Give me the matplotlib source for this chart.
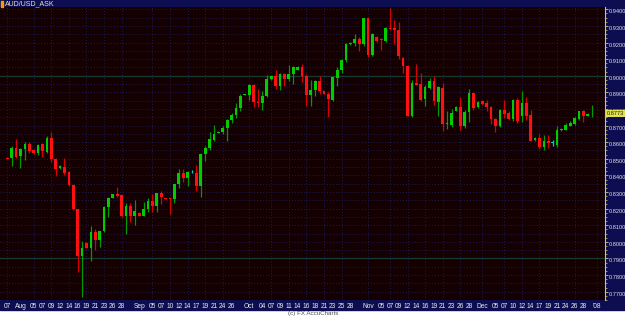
import numpy as np
import pandas as pd
import matplotlib
matplotlib.use('agg')
import matplotlib.pyplot as plt
from matplotlib.patches import Rectangle

plt.rcParams['font.family'] = ['Liberation Sans', 'DejaVu Sans']

symbol = 'AUD/USD_ASK'
last_price = '0.8773'

# daily candles (Sun-Fri) from 29 Jul 2007
o = [0.8507, 0.8507, 0.8563, 0.8517, 0.8557, 0.8587, 0.8551, 0.8533, 0.8587, 0.8543,
     0.8623, 0.8497, 0.8443, 0.8453, 0.8423, 0.8343, 0.8197, 0.7913, 0.7993, 0.7963,
     0.8061, 0.8013, 0.8063, 0.8207, 0.8267, 0.8287, 0.8281, 0.8153, 0.8217, 0.8153,
     0.8173, 0.8157, 0.8197, 0.8247, 0.8216, 0.8292, 0.8262, 0.8262, 0.8256, 0.8346,
     0.8416, 0.8386, 0.8420, 0.8416, 0.8336, 0.8526, 0.8566, 0.8616, 0.8660, 0.8662,
     0.8686, 0.8732, 0.8766, 0.8806, 0.8884, 0.8886, 0.8946, 0.8842, 0.8836, 0.8876,
     0.8980, 0.8996, 0.8940, 0.9010, 0.8980, 0.9012, 0.9036, 0.9052, 0.8996, 0.8882,
     0.8916, 0.8966, 0.8906, 0.8892, 0.8856, 0.8986, 0.9032, 0.9092, 0.9190, 0.9196,
     0.9220, 0.9190, 0.9346, 0.9126, 0.9236, 0.9222, 0.9212, 0.9290, 0.9286, 0.9276,
     0.9106, 0.9060, 0.8760, 0.8956, 0.8952, 0.8860, 0.8926, 0.8966, 0.8842, 0.8926,
     0.8710, 0.8706, 0.8790, 0.8810, 0.8696, 0.8780, 0.8896, 0.8812, 0.8846, 0.8836,
     0.8810, 0.8740, 0.8700, 0.8792, 0.8776, 0.8742, 0.8852, 0.8756, 0.8836, 0.8766,
     0.8612, 0.8626, 0.8572, 0.8606, 0.8600, 0.8586, 0.8672, 0.8676, 0.8700, 0.8712,
     0.8742, 0.8786, 0.8760, 0.8770]
h = [0.8513, 0.8577, 0.8617, 0.8563, 0.8603, 0.8603, 0.8557, 0.8587, 0.8597, 0.8637,
     0.8663, 0.8507, 0.8463, 0.8507, 0.8427, 0.8347, 0.8197, 0.8007, 0.7997, 0.8093,
     0.8077, 0.8067, 0.8213, 0.8273, 0.8291, 0.8333, 0.8287, 0.8233, 0.8233, 0.8253,
     0.8177, 0.8237, 0.8267, 0.8287, 0.8296, 0.8306, 0.8264, 0.8264, 0.8346, 0.8436,
     0.8436, 0.8426, 0.8432, 0.8460, 0.8536, 0.8576, 0.8662, 0.8706, 0.8666, 0.8700,
     0.8740, 0.8776, 0.8836, 0.8892, 0.8890, 0.8952, 0.8952, 0.8920, 0.8906, 0.9006,
     0.9000, 0.9036, 0.9016, 0.9016, 0.9066, 0.9060, 0.9056, 0.9070, 0.9010, 0.8976,
     0.8976, 0.8996, 0.8910, 0.8902, 0.8996, 0.9052, 0.9100, 0.9196, 0.9202, 0.9250,
     0.9236, 0.9350, 0.9350, 0.9256, 0.9240, 0.9230, 0.9296, 0.9406, 0.9336, 0.9326,
     0.9110, 0.9066, 0.8976, 0.9072, 0.9016, 0.8946, 0.8986, 0.8996, 0.8936, 0.8956,
     0.8790, 0.8800, 0.8816, 0.8872, 0.8796, 0.8920, 0.8900, 0.8846, 0.8856, 0.8856,
     0.8816, 0.8746, 0.8800, 0.8856, 0.8786, 0.8860, 0.8866, 0.8906, 0.8872, 0.8796,
     0.8632, 0.8652, 0.8646, 0.8646, 0.8616, 0.8700, 0.8684, 0.8716, 0.8726, 0.8752,
     0.8790, 0.8792, 0.8776, 0.8825]
l = [0.8497, 0.8457, 0.8507, 0.8443, 0.8491, 0.8537, 0.8527, 0.8521, 0.8513, 0.8533,
     0.8483, 0.8397, 0.8441, 0.8401, 0.8337, 0.8191, 0.7817, 0.7667, 0.7961, 0.7887,
     0.7953, 0.7967, 0.8061, 0.8151, 0.8263, 0.8271, 0.8147, 0.8047, 0.8121, 0.8103,
     0.8153, 0.8153, 0.8181, 0.8181, 0.8180, 0.8226, 0.8256, 0.8166, 0.8232, 0.8326,
     0.8362, 0.8336, 0.8416, 0.8306, 0.8270, 0.8486, 0.8552, 0.8606, 0.8658, 0.8652,
     0.8610, 0.8716, 0.8746, 0.8786, 0.8882, 0.8856, 0.8812, 0.8812, 0.8796, 0.8872,
     0.8976, 0.8920, 0.8916, 0.8940, 0.8966, 0.8952, 0.9032, 0.8960, 0.8820, 0.8816,
     0.8880, 0.8890, 0.8890, 0.8750, 0.8850, 0.8936, 0.9016, 0.9080, 0.9186, 0.9182,
     0.9150, 0.9182, 0.9110, 0.9116, 0.9206, 0.9156, 0.9206, 0.9276, 0.9190, 0.9102,
     0.9016, 0.8756, 0.8750, 0.8944, 0.8846, 0.8816, 0.8920, 0.8826, 0.8756, 0.8670,
     0.8682, 0.8690, 0.8786, 0.8672, 0.8686, 0.8720, 0.8796, 0.8806, 0.8826, 0.8786,
     0.8710, 0.8660, 0.8690, 0.8746, 0.8736, 0.8726, 0.8716, 0.8720, 0.8736, 0.8606,
     0.8606, 0.8556, 0.8552, 0.8566, 0.8576, 0.8572, 0.8670, 0.8672, 0.8696, 0.8706,
     0.8736, 0.8720, 0.8756, 0.8750]
c = [0.8501, 0.8563, 0.8513, 0.8557, 0.8587, 0.8547, 0.8533, 0.8583, 0.8547, 0.8623,
     0.8497, 0.8437, 0.8457, 0.8417, 0.8341, 0.8197, 0.7913, 0.7963, 0.7963, 0.8061,
     0.8013, 0.8063, 0.8207, 0.8267, 0.8287, 0.8277, 0.8153, 0.8217, 0.8153, 0.8187,
     0.8157, 0.8197, 0.8243, 0.8213, 0.8292, 0.8270, 0.8258, 0.8258, 0.8346, 0.8416,
     0.8382, 0.8422, 0.8420, 0.8336, 0.8530, 0.8566, 0.8620, 0.8652, 0.8664, 0.8686,
     0.8736, 0.8766, 0.8806, 0.8876, 0.8888, 0.8946, 0.8840, 0.8838, 0.8880, 0.8980,
     0.8996, 0.8940, 0.9010, 0.8980, 0.9010, 0.9050, 0.9052, 0.8996, 0.8886, 0.8916,
     0.8966, 0.8906, 0.8892, 0.8862, 0.8990, 0.9036, 0.9092, 0.9190, 0.9200, 0.9220,
     0.9190, 0.9346, 0.9126, 0.9250, 0.9212, 0.9214, 0.9290, 0.9282, 0.9274, 0.9116,
     0.9060, 0.8760, 0.8956, 0.8946, 0.8856, 0.8932, 0.8966, 0.8846, 0.8930, 0.8710,
     0.8718, 0.8776, 0.8810, 0.8696, 0.8780, 0.8896, 0.8806, 0.8842, 0.8830, 0.8810,
     0.8740, 0.8700, 0.8792, 0.8772, 0.8742, 0.8856, 0.8726, 0.8836, 0.8760, 0.8610,
     0.8626, 0.8572, 0.8606, 0.8596, 0.8600, 0.8676, 0.8680, 0.8706, 0.8716, 0.8746,
     0.8786, 0.8756, 0.8772, 0.8773]

tick_dates = ['2007-07-29', '2007-08-01', '2007-08-05', '2007-08-07', '2007-08-09', '2007-08-12',
              '2007-08-14', '2007-08-16', '2007-08-19', '2007-08-21', '2007-08-23', '2007-08-26',
              '2007-08-28', '2007-09-02', '2007-09-05', '2007-09-07', '2007-09-10', '2007-09-12',
              '2007-09-14', '2007-09-17', '2007-09-19', '2007-09-21', '2007-09-24', '2007-09-26',
              '2007-10-01', '2007-10-04', '2007-10-07', '2007-10-09', '2007-10-11', '2007-10-14',
              '2007-10-16', '2007-10-18', '2007-10-21', '2007-10-23', '2007-10-25', '2007-10-28',
              '2007-11-01', '2007-11-05', '2007-11-07', '2007-11-09', '2007-11-12', '2007-11-14',
              '2007-11-16', '2007-11-19', '2007-11-21', '2007-11-23', '2007-11-26', '2007-11-28',
              '2007-12-02', '2007-12-05', '2007-12-07', '2007-12-10', '2007-12-12', '2007-12-14',
              '2007-12-17', '2007-12-19', '2007-12-21', '2007-12-24', '2007-12-26', '2007-12-28',
              '2008-01-01']
tick_labels = ['07', 'Aug', '05', '07', '09', '12', '14', '16', '19', '21', '23', '26', '28',
               'Sep', '05', '07', '10', '12', '14', '17', '19', '21', '24', '26',
               'Oct', '04', '07', '09', '11', '14', '16', '18', '21', '23', '25', '28',
               'Nov', '05', '07', '09', '12', '14', '16', '19', '21', '23', '26', '28',
               'Dec', '05', '07', '10', '12', '14', '17', '19', '21', '24', '26', '28', "'08"]

# trading calendar: every day except Saturday
cal = pd.date_range('2007-07-29', '2008-01-01')
cal = cal[cal.dayofweek != 5]
tick_x = cal.get_indexer(pd.to_datetime(tick_dates))

o = np.array(o); h = np.array(h); l = np.array(l); c = np.array(c)
x = np.arange(len(o))

W, H = 625, 318
fig = plt.figure(figsize=(W / 100, H / 100), dpi=100)
fig.patch.set_facecolor('white')
navy = '#0d0d52'

ax = fig.add_axes([0, 18 / H, 605 / W, 293 / H])
ax.set_facecolor('#140000')

# grid
for p in np.arange(0.765, 0.945, 0.005):
    ax.axhline(p, color='#1b2670', lw=0.6, ls=(0, (1, 2.5)), zorder=0)
for p in [0.90, 0.79]:
    ax.axhline(p, color='#173a30', lw=0.9, zorder=0)
for t in tick_x[::2]:
    ax.axvline(t, color='#1b2670', lw=0.6, ls=(0, (1, 2.5)), zorder=0)

# candles
up = c > o
down = c < o
body_col = np.where(up, '#00cc00', np.where(down, '#ff1010', '#00d0d0'))
wick_col = np.where(up, '#009a00', np.where(down, '#d80000', '#00d0d0'))
ax.vlines(x, l, h, colors=wick_col, lw=0.9, zorder=2)
body_h = np.maximum(np.abs(c - o), 0.0004)
body_b = np.minimum(o, c) - np.where(np.abs(c - o) < 0.0004, 0.0002, 0)
ax.bar(x, body_h, bottom=body_b, width=0.62, color=body_col, lw=0, zorder=3)

ax.set_xlim(-1.66, 135.9)
ax.set_ylim(0.76593, 0.94138)

ax.yaxis.tick_right()
yt = np.arange(0.77, 0.9401, 0.01)
ax.set_yticks(yt)
ax.set_yticklabels(['%.4f' % v for v in yt])
ax.set_yticks(np.arange(0.765, 0.942, 0.0025), minor=True)
ax.tick_params(axis='y', which='major', length=2, width=0.6, color='#c8c870',
               labelsize=4.1, labelcolor='#e0e0e8', pad=1)
ax.tick_params(axis='y', which='minor', length=1.2, width=0.5, color='#c8c870')
for t in ax.get_yticklabels():
    t.set_va('top')
ax.set_xticks(tick_x)
ax.set_xticklabels(tick_labels)
ax.tick_params(axis='x', length=0, labelsize=4.8, labelcolor='#e8e8f0', pad=2.5)
for s in ['top', 'left', 'bottom']:
    ax.spines[s].set_visible(False)
ax.spines['right'].set_color('#c8c870')
ax.spines['right'].set_linewidth(0.8)

# frame panels
fig.add_artist(Rectangle((0, 311 / H), 1, 7 / H, transform=fig.transFigure,
                         color=navy, zorder=-5))
fig.add_artist(Rectangle((605 / W, 8 / H), 20 / W, 310 / H, transform=fig.transFigure,
                         color=navy, zorder=-5))
fig.add_artist(Rectangle((0, 8 / H), 605 / W, 10 / H, transform=fig.transFigure,
                         color=navy, zorder=-5))
fig.add_artist(Rectangle((1 / W, 311.5 / H), 2 / W, 6 / H, transform=fig.transFigure,
                         color='#ff9a00', zorder=5))
fig.text(5 / W, 1 - 4 / H, symbol, fontsize=5, color='#e8e8c8', va='center', ha='left')

# last price marker
ax.annotate(last_price, xy=(1.0, c[-1]), xycoords=('axes fraction', 'data'),
            xytext=(1.2, 0), textcoords='offset points', fontsize=4.1, color='#202000',
            va='center', ha='left',
            bbox=dict(boxstyle='square,pad=0.2', fc='#e0e050', ec='none'), zorder=10,
            annotation_clip=False)

fig.text(313 / W, 1 - 313.5 / H, '(c) FX AccuCharts', fontsize=4.5, color='#505050',
         ha='center', va='center')

fig.savefig('out.png', dpi=100, facecolor=fig.get_facecolor())
